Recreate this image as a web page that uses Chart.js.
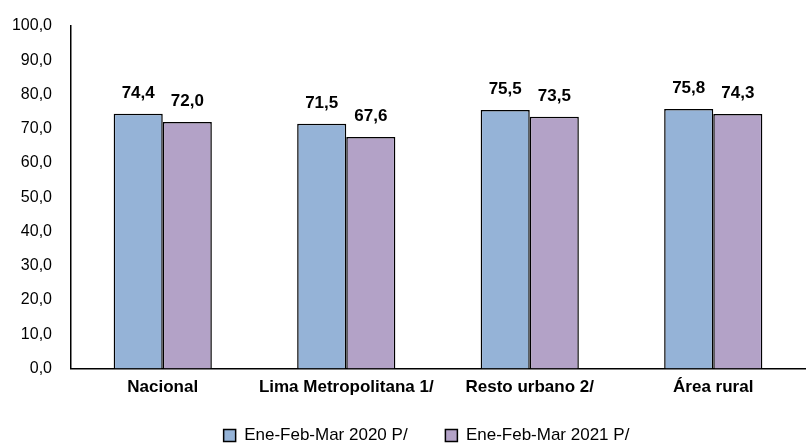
<!DOCTYPE html>
<html><head><meta charset="utf-8">
<script src="https://cdn.jsdelivr.net/npm/chart.js@4/dist/chart.umd.min.js"></script>
<style>html,body{margin:0;padding:0;background:#fff}#w{width:808px;height:448px}</style>
</head><body><div id="w"><canvas id="c"></canvas></div>
<script>
const categories = ["Nacional", "Lima Metropolitana 1/", "Resto urbano 2/", "Área rural"];
const series2020 = [74.4, 71.5, 75.5, 75.8];
const series2021 = [72.0, 67.6, 73.5, 74.3];
const seriesNames = ["Ene-Feb-Mar 2020 P/", "Ene-Feb-Mar 2021 P/"];
const FONT = "'Liberation Sans Narrow', 'Arial Narrow', 'Liberation Sans', Arial, sans-serif";
const fmt = v => v.toFixed(1).replace('.', ',');

const labelPlugin = {
  id: 'vlabels',
  afterDatasetsDraw(chart) {
    const ctx = chart.ctx;
    ctx.save();
    ctx.font = "bold 17px " + FONT;
    ctx.fillStyle = '#000';
    ctx.textAlign = 'center';
    ctx.textBaseline = 'bottom';
    chart.data.datasets.forEach((ds, i) => {
      chart.getDatasetMeta(i).data.forEach((bar, j) => {
        ctx.fillText(fmt(ds.data[j]), bar.x, bar.y - 12);
      });
    });
    ctx.restore();
  }
};

const legendShift = {
  id: 'legendShift',
  afterLayout(chart) {
    const lg = chart.legend;
    if (!lg) return;
    lg.left += 18; lg.right += 18;
    lg.top += 6; lg.bottom += 6;
  }
};

new Chart(document.getElementById('c'), {
  type: 'bar',
  data: {
    labels: categories,
    datasets: [
      { label: seriesNames[0], data: series2020, backgroundColor: '#95B3D7', borderColor: '#000', borderWidth: 1.5 },
      { label: seriesNames[1], data: series2021, backgroundColor: '#B3A2C7', borderColor: '#000', borderWidth: 1.5 }
    ]
  },
  options: {
    responsive: true, maintainAspectRatio: false, animation: false,
    layout: { padding: { left: 12, right: 3, top: 0, bottom: 0 } },
    datasets: { bar: { categoryPercentage: 0.535, barPercentage: 1.0 } },
    plugins: {
      legend: {
        position: 'bottom',
        labels: {
          font: { family: FONT, size: 17 }, color: '#000', boxWidth: 12, boxHeight: 12, padding: 0,
          generateLabels(chart) {
            const items = Chart.defaults.plugins.legend.labels.generateLabels(chart);
            items[0].text = items[0].text + '        ';
            return items;
          }
        },
      },
      tooltip: { enabled: false }
    },
    scales: {
      x: {
        grid: { display: false, drawTicks: false },
        border: { color: '#000', width: 1.5 },
        ticks: { font: { family: FONT, size: 17, weight: 'bold' }, color: '#000', padding: 9, maxRotation: 0 },
        afterFit(s) { s.height += 14; }
      },
      y: {
        min: 0, max: 100,
        grid: { display: false, drawTicks: false },
        border: { color: '#000', width: 1.5 },
        ticks: { stepSize: 10, font: { family: FONT, size: 16 }, color: '#000', padding: 19, callback: v => fmt(v) },
        afterFit(s) { s.width = 59; s.paddingTop = 26; }
      }
    }
  },
  plugins: [labelPlugin, legendShift]
});
</script></body></html>
